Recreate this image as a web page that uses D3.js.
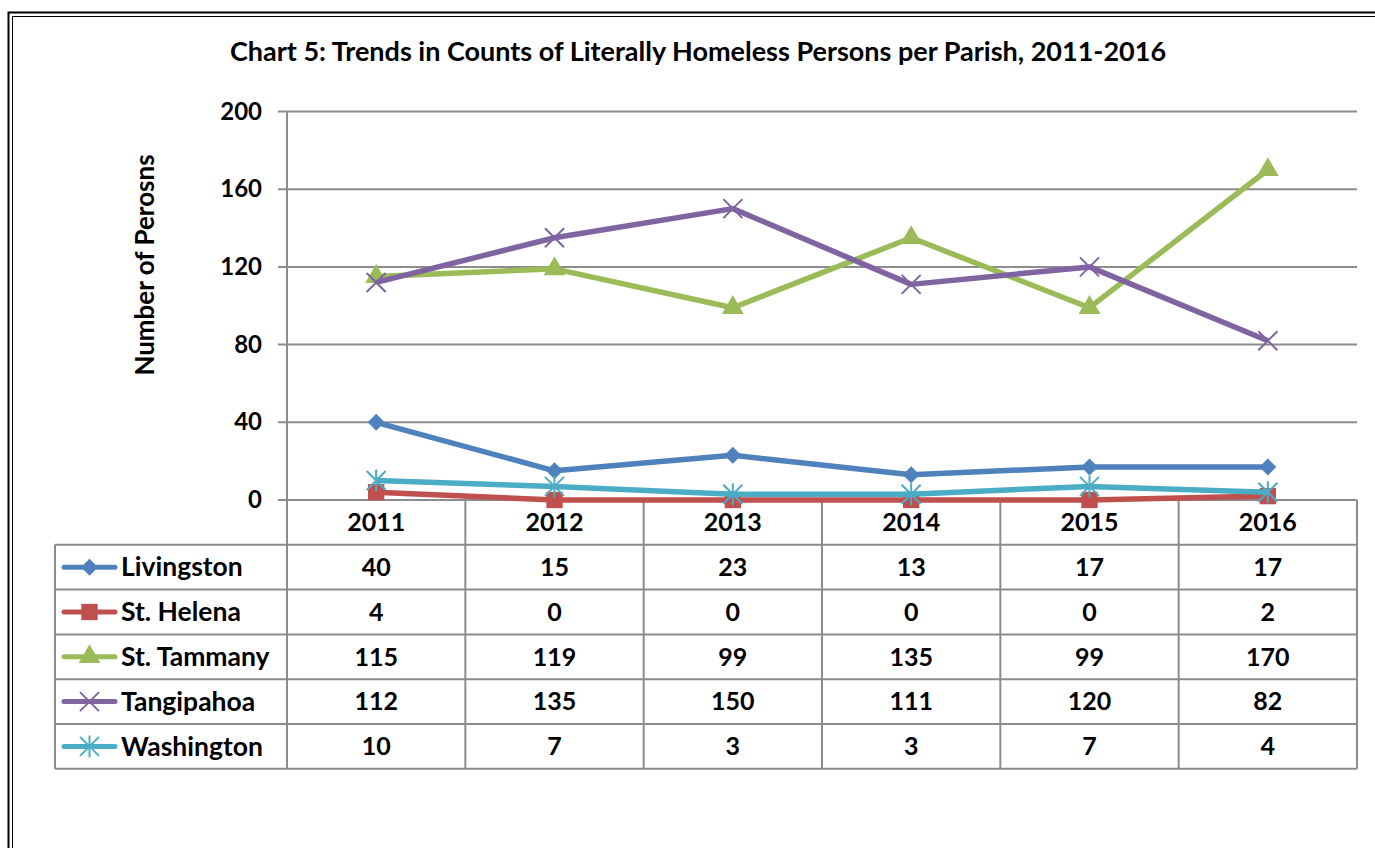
<!DOCTYPE html>
<html lang="en">
  <head>
    <meta charset="UTF-8" />
    <title>Chart 5</title>
    <style>
      body { margin: 0; background: #fff; }
      text { font-family: Lato, "Open Sans", sans-serif; font-weight: 700; fill: #000; }
    </style>
  </head>
  <body>
    <svg id="svg" width="1375" height="848"></svg>
    <script src="https://d3js.org/d3.v7.min.js"></script>
    <script>
      const years = ["2011", "2012", "2013", "2014", "2015", "2016"];
      const parishes = ["Livingston", "St. Helena", "St. Tammany", "Tangipahoa", "Washington"];
      const livingston = [40, 15, 23, 13, 17, 17];
      const stHelena = [4, 0, 0, 0, 0, 2];
      const stTammany = [115, 119, 99, 135, 99, 170];
      const tangipahoa = [112, 135, 150, 111, 120, 82];
      const washington = [10, 7, 3, 3, 7, 4];
      const yTicks = [0, 40, 80, 120, 160, 200];

      const colors = ["#4F81BD", "#C0504D", "#9BBB59", "#8064A2", "#4BACC6"];
      const markers = ["diamond", "square", "triangle", "cross", "star"];
      const series = [livingston, stHelena, stTammany, tangipahoa, washington];

      const svg = d3.select("#svg");
      const grey = "#8c8c8c";

      // double frame
      svg.append("rect").attr("x", 8.5).attr("y", 12.5).attr("width", 1400).attr("height", 900)
        .attr("fill", "none").attr("stroke", "#000").attr("stroke-width", 2);
      svg.append("rect").attr("x", 12.5).attr("y", 16.5).attr("width", 1400).attr("height", 900)
        .attr("fill", "none").attr("stroke", "#000").attr("stroke-width", 1);

      const plotLeft = 287, plotRight = 1357, plotTop = 111.5, plotBottom = 500;
      const rowH = 44.8;
      const tableLeft = 55;

      const x = d3.scaleBand().domain(years).range([plotLeft, plotRight]);
      const y = d3.scaleLinear().domain([0, 200]).range([plotBottom, plotTop]);

      // title
      svg.append("text").attr("x", 698).attr("y", 61).attr("text-anchor", "middle")
        .style("font-size", "27px")
        .text("Chart 5: Trends in Counts of Literally Homeless Persons per Parish, 2011-2016");

      // y-axis title
      svg.append("text").attr("transform", `translate(154, 265) rotate(-90)`)
        .attr("text-anchor", "middle").style("font-size", "26px")
        .text("Number of Perosns");

      // gridlines
      svg.append("g").selectAll("line").data(yTicks).join("line")
        .attr("x1", plotLeft - 9).attr("x2", plotRight)
        .attr("y1", (d) => y(d)).attr("y2", (d) => y(d))
        .attr("stroke", grey).attr("stroke-width", 2);

      // y axis
      const yAxis = d3.axisLeft(y).tickValues(yTicks).tickSize(0).tickPadding(25);
      const yg = svg.append("g").attr("transform", `translate(${plotLeft},0)`).call(yAxis);
      yg.select(".domain").remove();
      yg.selectAll("text").style("font-size", "24px").style("font-family", "Lato, sans-serif");

      // table
      const tableBottom = plotBottom + rowH * 6;
      const tg = svg.append("g").attr("stroke", grey).attr("stroke-width", 2);
      tg.append("line").attr("x1", plotLeft).attr("x2", plotLeft).attr("y1", plotTop).attr("y2", tableBottom);
      years.forEach((yr) => {
        const xr = x(yr) + x.bandwidth();
        tg.append("line").attr("x1", xr).attr("x2", xr).attr("y1", plotBottom).attr("y2", tableBottom);
      });
      tg.append("line").attr("x1", tableLeft).attr("x2", tableLeft)
        .attr("y1", plotBottom + rowH).attr("y2", tableBottom);
      for (let i = 1; i <= 6; i++) {
        tg.append("line").attr("x1", tableLeft).attr("x2", plotRight)
          .attr("y1", plotBottom + rowH * i).attr("y2", plotBottom + rowH * i);
      }

      // header years
      svg.append("g").selectAll("text").data(years).join("text")
        .attr("x", (d) => x(d) + x.bandwidth() / 2).attr("y", plotBottom + rowH / 2)
        .attr("dy", "0.35em").attr("text-anchor", "middle").style("font-size", "25px")
        .text((d) => d);

      function markerPath(type) {
        if (type === "diamond") return d3.symbol(d3.symbolDiamond2, 184)();
        if (type === "square") return d3.symbol(d3.symbolSquare2, 340)();
        if (type === "triangle") return d3.symbol(d3.symbolTriangle2, 340)();
        if (type === "cross") return "M-9.5,-9.5L9.5,9.5M-9.5,9.5L9.5,-9.5";
        return "M-9.5,-9.5L9.5,9.5M-9.5,9.5L9.5,-9.5M0,-11L0,11";
      }
      function drawMarker(g, type, color, cx, cy) {
        const filled = type === "diamond" || type === "square" || type === "triangle";
        g.append("path").attr("d", markerPath(type))
          .attr("transform", `translate(${cx},${cy})`)
          .attr("fill", filled ? color : "none")
          .attr("stroke", color).attr("stroke-width", filled ? 0 : 2);
      }

      // rows
      parishes.forEach((name, i) => {
        const cy = plotBottom + rowH * (i + 1) + rowH / 2;
        const row = svg.append("g");
        row.append("line").attr("x1", 64).attr("x2", 115).attr("y1", cy).attr("y2", cy)
          .attr("stroke", colors[i]).attr("stroke-width", 5).attr("stroke-linecap", "round");
        drawMarker(row, markers[i], colors[i], 89.5, cy);
        row.append("text").attr("x", 121).attr("y", cy).attr("dy", "0.35em")
          .style("font-size", "26.5px").text(name);
        row.selectAll("text.val").data(series[i]).join("text").attr("class", "val")
          .attr("x", (d, j) => x(years[j]) + x.bandwidth() / 2).attr("y", cy)
          .attr("dy", "0.35em").attr("text-anchor", "middle").style("font-size", "25px")
          .text((d) => d);
      });

      // lines
      const line = d3.line().x((d, j) => x(years[j]) + x.bandwidth() / 2).y((d) => y(d));
      series.forEach((vals, i) => {
        const g = svg.append("g");
        g.append("path").datum(vals).attr("d", line).attr("fill", "none")
          .attr("stroke", colors[i]).attr("stroke-width", 5.5).attr("stroke-linejoin", "round");
        vals.forEach((v, j) => drawMarker(g, markers[i], colors[i], x(years[j]) + x.bandwidth() / 2, y(v)));
      });
    </script>
  </body>
</html>
